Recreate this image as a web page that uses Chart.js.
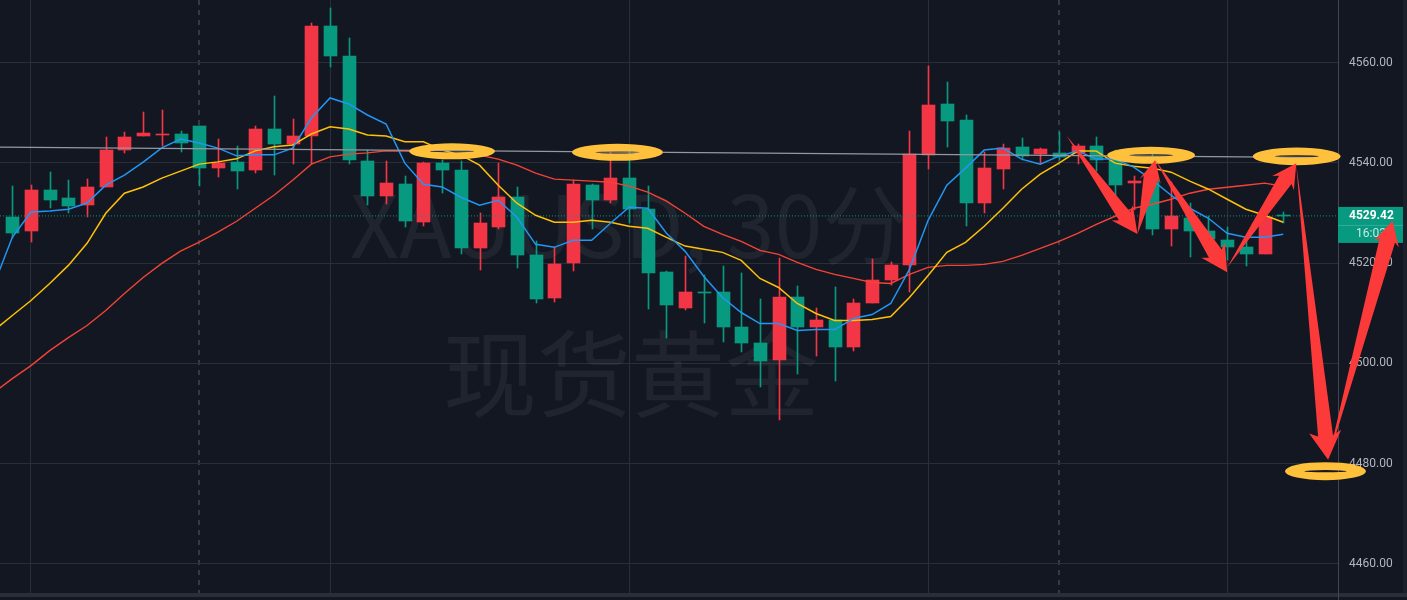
<!DOCTYPE html>
<html><head><meta charset="utf-8">
<style>html,body{margin:0;padding:0;background:#131722;overflow:hidden}
#w{position:relative;width:1407px;height:600px}canvas{position:absolute;left:0;top:0}
#s{position:absolute;left:0;right:0;top:593px;height:4px;background:#2a2e39}
#a{position:absolute;left:1338px;top:593px;width:1px;height:7px;background:#434651}
#r{position:absolute;left:1403px;top:0;width:4px;height:593px;background:#1c2029}
</style>
<script src="https://cdn.jsdelivr.net/npm/chart.js@4"></script></head><body>
<div id="w"><div id="s"></div><div id="a"></div><div id="r"></div><canvas id="c" width="1407" height="593"></canvas></div>
<script>
const opens=[4529.15,4526.4,4534.55,4532.95,4531.55,4535.2,4542.6,4545.35,4545.55,4545.75,4547.35,4539.0,4540.15,4538.55,4546.75,4543.75,4545.35,4567.35,4561.35,4540.35,4533.35,4535.75,4528.15,4539.95,4538.55,4522.95,4527.15,4533.15,4521.55,4512.95,4519.95,4535.55,4532.55,4536.95,4530.75,4518.15,4511.15,4514.15,4514.15,4507.35,4504.15,4500.75,4513.15,4507.35,4508.75,4503.35,4511.95,4516.55,4519.55,4541.55,4551.75,4548.55,4531.95,4538.75,4543.15,4541.75,4541.95,4541.95,4543.35,4541.15,4535.95,4536.55,4526.75,4528.95,4526.35,4524.55,4523.15,4521.75,4529.6];
const highs=[4535.35,4535.55,4538.15,4536.55,4536.75,4545.15,4546.15,4550.15,4550.55,4546.35,4547.35,4544.75,4543.35,4547.35,4553.35,4548.75,4567.95,4570.95,4564.95,4542.55,4540.35,4537.35,4540.15,4540.55,4540.35,4529.95,4539.95,4535.15,4524.35,4523.15,4536.55,4535.75,4542.15,4542.55,4535.35,4518.35,4521.35,4517.55,4519.35,4517.95,4512.75,4520.95,4515.35,4511.15,4515.15,4512.75,4520.75,4520.15,4546.35,4559.35,4556.15,4549.55,4542.15,4543.75,4544.95,4542.95,4546.15,4543.75,4545.15,4542.55,4537.35,4542.55,4536.15,4531.95,4529.35,4527.15,4524.55,4529.55,4530.15];
const lows=[4524.95,4524.21,4530.95,4530.0,4529.2,4535.2,4541.95,4545.35,4543.35,4542.15,4535.35,4537.2,4534.75,4537.95,4537.55,4539.75,4539.75,4559.15,4539.75,4531.55,4531.75,4527.15,4527.35,4533.95,4521.75,4518.55,4526.75,4518.95,4511.95,4512.15,4518.35,4526.75,4531.95,4527.95,4510.95,4505.15,4510.75,4508.15,4504.35,4502.35,4495.35,4488.75,4497.95,4501.55,4496.55,4502.55,4511.95,4515.55,4514.15,4538.75,4543.15,4527.35,4529.95,4534.75,4540.55,4539.75,4540.55,4539.75,4538.35,4533.15,4530.55,4525.55,4523.35,4521.15,4521.55,4520.55,4519.35,4521.75,4528.0];
const closes=[4526.0,4534.55,4532.55,4531.35,4535.15,4542.55,4545.15,4545.95,4545.75,4543.95,4539.0,4539.95,4538.35,4546.75,4543.75,4545.35,4567.35,4561.35,4540.55,4533.35,4535.95,4528.35,4539.95,4538.55,4522.95,4527.95,4533.15,4521.55,4512.75,4519.75,4535.75,4532.55,4536.95,4530.75,4517.95,4511.55,4514.15,4513.95,4507.35,4504.15,4500.55,4513.15,4507.35,4508.75,4503.35,4511.95,4516.55,4519.55,4541.75,4551.55,4548.35,4531.95,4538.95,4542.95,4541.35,4542.75,4541.15,4543.35,4540.55,4535.55,4536.35,4526.75,4529.35,4526.35,4524.75,4523.15,4521.75,4529.15,4529.42];
// moving averages start one bar before the first visible candle (bar -1)
const maBlue=[4515.55,4525.15,4530.2,4530.4,4530.75,4532.0,4535.55,4537.55,4540.15,4543.0,4544.75,4543.95,4542.95,4541.4,4541.6,4541.6,4542.95,4548.95,4552.95,4551.75,4549.55,4547.75,4539.95,4535.75,4535.2,4533.15,4531.55,4532.55,4529.15,4523.75,4523.15,4524.55,4524.55,4527.95,4531.15,4530.95,4525.95,4522.35,4517.35,4513.15,4510.15,4507.95,4507.95,4506.55,4506.75,4506.75,4508.95,4509.75,4511.95,4518.75,4528.55,4535.55,4538.95,4542.55,4542.95,4540.75,4539.75,4541.35,4542.35,4540.75,4540.75,4539.15,4536.55,4533.55,4530.95,4528.95,4525.95,4525.15,4525.15,4525.75];
const maYellow=[4506.55,4509.55,4512.55,4515.95,4519.55,4523.95,4529.95,4533.95,4535.2,4536.95,4538.35,4539.75,4540.2,4540.8,4542.4,4543.2,4543.55,4545.75,4547.2,4546.75,4545.55,4545.35,4544.2,4544.2,4542.55,4541.55,4539.55,4535.55,4531.95,4529.55,4528.15,4528.15,4528.55,4528.15,4527.35,4526.95,4525.15,4523.4,4522.75,4522.15,4520.55,4516.95,4515.15,4511.95,4509.95,4508.55,4508.55,4508.75,4509.35,4513.15,4517.55,4522.15,4524.15,4527.35,4530.95,4534.75,4537.75,4539.95,4542.35,4542.35,4539.95,4539.35,4538.95,4538.15,4536.35,4534.75,4532.75,4530.75,4529.55,4528.15];
const maRed=[4494.15,4496.95,4499.55,4502.55,4505.15,4507.55,4510.55,4513.95,4517.15,4519.95,4522.4,4524.2,4526.2,4528.35,4530.95,4533.55,4536.55,4539.75,4541.2,4541.75,4542.0,4542.4,4542.35,4542.15,4541.95,4541.75,4541.55,4540.75,4539.55,4537.95,4536.75,4536.55,4536.35,4536.15,4535.35,4534.15,4532.35,4529.95,4527.35,4525.75,4524.35,4522.55,4521.75,4520.15,4518.75,4517.75,4516.95,4516.15,4515.95,4517.75,4519.15,4519.55,4519.55,4519.75,4520.35,4521.55,4522.95,4524.35,4525.95,4527.75,4529.35,4530.95,4531.75,4532.75,4533.95,4534.75,4535.15,4535.55,4535.95,4535.35];
const trendX=[-0.66,70.93], trendY=[4543.15,4541.05];
const lastPrice=4529.42, lastCountdown='16:03';
const priceTicks=[4460,4480,4500,4520,4540,4560];
const gridBars=[1,10,17,33,49,56,65], dashedBars=[10,56];
// hand-drawn annotations in data coordinates
const ovalX=[23.53,32.38,60.93,68.72,70.26], ovalY=[4542.3,4542.1,4541.5,4541.3,4478.5];
const arrowFromX=[56.42,60.2,61.15,65.0,68.7,70.4], arrowFromY=[4545.35,4525.8,4540.55,4519.15,4539.55,4480.8];
const arrowToX=[60.2,61.15,65.0,68.7,70.4,73.85], arrowToY=[4525.8,4540.55,4518.2,4539.95,4480.8,4528.4];
const watermarkA='XAUUSD, 30分', watermarkB='现货黄金';

const GREEN='#089981',RED='#F23645';
const xs=closes.map((_,i)=>i);
const dirCol=closes.map((c,i)=>c>=opens[i]?RED:GREEN);
const line=(arr,col,w)=>({type:'line',data:arr.map((v,i)=>({x:i-1,y:v})),borderColor:col,borderWidth:w,pointRadius:0,tension:0,order:1});
const overlay={id:'overlay',
 beforeDatasetsDraw(ch){const c=ch.ctx,a=ch.chartArea;c.save();c.beginPath();c.rect(a.left,a.top,a.width,a.height);c.clip();
  c.fillStyle='rgba(120,123,134,0.13)';c.textAlign='center';c.textBaseline='alphabetic';
  c.font='86px "Noto Sans CJK SC"';c.fillText(watermarkA,629,258);
  c.font='94px "Noto Sans CJK SC"';c.fillText(watermarkB,631,410);c.restore();
  // snap candle bodies and wicks to whole device pixels so they stay crisp
  ch.data.datasets.forEach((d,i)=>{if(d.type!=='bar')return;ch.getDatasetMeta(i).data.forEach(el=>{
   el.x=Math.round(el.x)+0.5;const t=Math.round(el.y),b=Math.round(el.base);el.y=t;el.base=b===t?t+1:b;});});},
 afterDraw(ch){const c=ch.ctx,X=ch.scales.x,Y=ch.scales.y;c.save();
  // last price tag
  const ly=Y.getPixelForValue(lastPrice),ax=ch.chartArea.right;
  c.fillStyle=GREEN;c.fillRect(ax,ly-9,65,36);
  c.fillStyle='rgba(255,255,255,0.18)';c.fillRect(ax,ly+9,65,1);
  c.fillStyle='#fff';c.textAlign='left';c.textBaseline='middle';c.font='bold 12px Roboto';c.fillText(lastPrice.toFixed(2),ax+11,ly);
  c.fillStyle='rgba(255,255,255,0.78)';c.font='12px Roboto';c.textAlign='center';c.fillText(lastCountdown,ax+33,ly+18);
  // ovals
  const rx=[43,45.5,44,44,40.5],ry=[8,8.5,8.5,8.8,9],hx=[22,22,22,22,21];
  ovalX.forEach((v,i)=>{const px=X.getPixelForValue(v),py=Y.getPixelForValue(ovalY[i]);
   c.beginPath();c.ellipse(px,py,rx[i],ry[i],0,0,Math.PI*2);c.ellipse(px,py,hx[i],1.1,0,0,Math.PI*2);c.fillStyle='#FFC13B';c.fill('evenodd');});
  // arrows
  const head=[[26,13,7],[22,11,7.5],[26,14,7.5],[24,13,7.5],[28,16,7.5],[24,13,8]];
  arrowFromX.forEach((v,i)=>{const x0=X.getPixelForValue(v),y0=Y.getPixelForValue(arrowFromY[i]),x1=X.getPixelForValue(arrowToX[i]),y1=Y.getPixelForValue(arrowToY[i]);
   const L=Math.hypot(x1-x0,y1-y0),ux=(x1-x0)/L,uy=(y1-y0)/L,nx=-uy,ny=ux,[hl,hw,nw]=head[i],bx=x1-ux*hl,by=y1-uy*hl,kx=bx+ux*4,ky=by+uy*4;
   c.beginPath();c.moveTo(x0,y0);c.lineTo(kx+nx*nw,ky+ny*nw);c.lineTo(bx+nx*hw,by+ny*hw);c.lineTo(x1,y1);c.lineTo(bx-nx*hw,by-ny*hw);c.lineTo(kx-nx*nw,ky-ny*nw);c.closePath();
   c.fillStyle='#FD3A3A';c.fill();});
  c.restore();}};
new Chart(document.getElementById('c'),{
 data:{datasets:[
  {type:'line',data:trendX.map((x,i)=>({x,y:trendY[i]})),borderColor:'#9598a1',borderWidth:1.4,pointRadius:0,order:0},
  line(maBlue,'#2196F3',1.5),line(maYellow,'#FFC107',1.5),line(maRed,'#F44336',1.4),
  {type:'line',data:[{x:-0.66,y:lastPrice},{x:70.93,y:lastPrice}],borderColor:GREEN,borderWidth:1,borderDash:[1,2],pointRadius:0,order:2},
  {type:'bar',data:xs.map(i=>({x:i,y:[opens[i],closes[i]]})),backgroundColor:dirCol,barThickness:13,minBarLength:1,grouped:false,order:3},
  {type:'bar',data:xs.map(i=>({x:i,y:[lows[i],highs[i]]})),backgroundColor:dirCol,barThickness:1,grouped:false,order:4}
 ]},
 plugins:[overlay],
 options:{responsive:false,animation:false,devicePixelRatio:1,layout:{padding:0},
  plugins:{legend:{display:false},tooltip:{enabled:false}},
  scales:{
   x:{type:'linear',min:-0.658,max:70.93,offset:false,ticks:{display:false},border:{display:false,dash:c=>c.tick&&dashedBars.includes(c.tick.value)?[5,5]:[]},
    afterBuildTicks:s=>{s.ticks=gridBars.map(value=>({value}));},afterFit:s=>{s.height=0;s.paddingLeft=s.paddingRight=0;},
    grid:{offset:false,drawTicks:false,color:c=>c.tick&&dashedBars.includes(c.tick.value)?'#363a45':'#2a2e39',lineWidth:c=>c.tick&&dashedBars.includes(c.tick.value)?2:1}},
   y:{type:'linear',position:'right',min:4454.2,max:4572.49,afterFit:s=>{s.width=69;s.paddingTop=s.paddingBottom=0;},
    afterBuildTicks:s=>{s.ticks=priceTicks.map(value=>({value}));},
    border:{color:'#434651'},grid:{color:'#2a2e39',drawTicks:false},
    ticks:{padding:11,color:'#b2b5be',font:{family:'Roboto',size:12},callback:v=>Number(v).toFixed(2)}}
  }}});
</script></body></html>
